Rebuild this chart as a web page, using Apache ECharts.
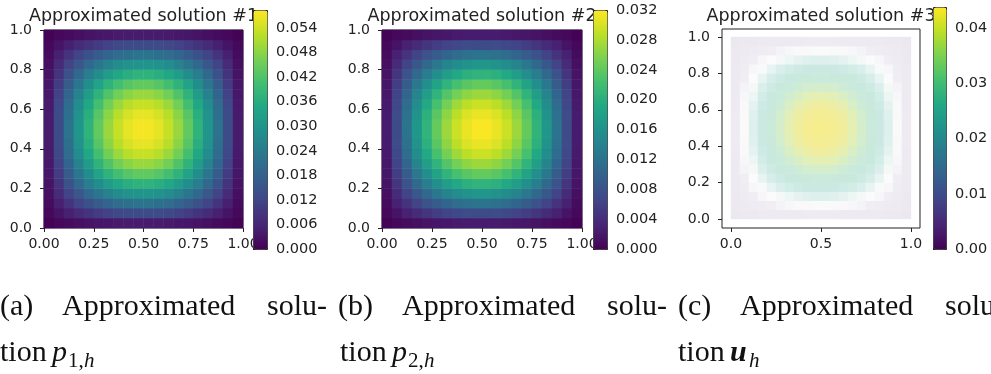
<!DOCTYPE html>
<html>
<head>
<meta charset="utf-8">
<script src="https://cdn.jsdelivr.net/npm/echarts@6.0.0/dist/echarts.min.js"></script>
<style>
html,body{margin:0;padding:0;background:#ffffff;}
#chart{width:991px;height:374px;}
</style>
</head>
<body>
<div id="chart"></div>
<script>
// ---------------- data ----------------
const titles = ['Approximated solution #1', 'Approximated solution #2', 'Approximated solution #3'];

// colour-bar ranges and ticks
const cbMax = [0.0584, 0.032, 0.0438];
const cbTickCount = [9, 8, 4];          // number of tick steps above 0
const cbTickStep = [0.006, 0.004, 0.01];
const cbDecimals = [3, 3, 2];

// axis ticks
const xTickStepAB = 0.25;
const xTickStepC = 0.5;
const yTickStep = 0.2;

// captions
const captionLine1 = [['(a)', 'Approximated', 'solu-'], ['(b)', 'Approximated', 'solu-'], ['(c)', 'Approximated', 'solu-']];
const captionTion = 'tion';
const captionMath = [['p', '1,', 'h'], ['p', '2,', 'h'], ['u', '', 'h']];

// field values on a 20 x 20 grid of cells (row 0 = bottom, column 0 = left)
const field1 = [
[0.0004,0.0011,0.0017,0.0024,0.0030,0.0035,0.0039,0.0042,0.0044,0.0045,0.0045,0.0044,0.0042,0.0039,0.0035,0.0030,0.0024,0.0017,0.0011,0.0004],
[0.0011,0.0032,0.0052,0.0071,0.0088,0.0103,0.0115,0.0125,0.0132,0.0135,0.0135,0.0132,0.0125,0.0115,0.0103,0.0088,0.0071,0.0052,0.0032,0.0011],
[0.0017,0.0052,0.0085,0.0116,0.0144,0.0169,0.0189,0.0205,0.0216,0.0221,0.0221,0.0216,0.0205,0.0189,0.0169,0.0144,0.0116,0.0085,0.0052,0.0017],
[0.0024,0.0071,0.0116,0.0158,0.0197,0.0230,0.0258,0.0280,0.0295,0.0302,0.0302,0.0295,0.0280,0.0258,0.0230,0.0197,0.0158,0.0116,0.0071,0.0024],
[0.0030,0.0088,0.0144,0.0197,0.0245,0.0286,0.0321,0.0348,0.0366,0.0375,0.0375,0.0366,0.0348,0.0321,0.0286,0.0245,0.0197,0.0144,0.0088,0.0030],
[0.0035,0.0103,0.0169,0.0230,0.0286,0.0335,0.0376,0.0407,0.0429,0.0440,0.0440,0.0429,0.0407,0.0376,0.0335,0.0286,0.0230,0.0169,0.0103,0.0035],
[0.0039,0.0115,0.0189,0.0258,0.0321,0.0376,0.0422,0.0457,0.0481,0.0493,0.0493,0.0481,0.0457,0.0422,0.0376,0.0321,0.0258,0.0189,0.0115,0.0039],
[0.0042,0.0125,0.0205,0.0280,0.0348,0.0407,0.0457,0.0495,0.0521,0.0534,0.0534,0.0521,0.0495,0.0457,0.0407,0.0348,0.0280,0.0205,0.0125,0.0042],
[0.0044,0.0132,0.0216,0.0295,0.0366,0.0429,0.0481,0.0521,0.0548,0.0562,0.0562,0.0548,0.0521,0.0481,0.0429,0.0366,0.0295,0.0216,0.0132,0.0044],
[0.0045,0.0135,0.0221,0.0302,0.0375,0.0440,0.0493,0.0534,0.0562,0.0576,0.0576,0.0562,0.0534,0.0493,0.0440,0.0375,0.0302,0.0221,0.0135,0.0045],
[0.0045,0.0135,0.0221,0.0302,0.0375,0.0440,0.0493,0.0534,0.0562,0.0576,0.0576,0.0562,0.0534,0.0493,0.0440,0.0375,0.0302,0.0221,0.0135,0.0045],
[0.0044,0.0132,0.0216,0.0295,0.0366,0.0429,0.0481,0.0521,0.0548,0.0562,0.0562,0.0548,0.0521,0.0481,0.0429,0.0366,0.0295,0.0216,0.0132,0.0044],
[0.0042,0.0125,0.0205,0.0280,0.0348,0.0407,0.0457,0.0495,0.0521,0.0534,0.0534,0.0521,0.0495,0.0457,0.0407,0.0348,0.0280,0.0205,0.0125,0.0042],
[0.0039,0.0115,0.0189,0.0258,0.0321,0.0376,0.0422,0.0457,0.0481,0.0493,0.0493,0.0481,0.0457,0.0422,0.0376,0.0321,0.0258,0.0189,0.0115,0.0039],
[0.0035,0.0103,0.0169,0.0230,0.0286,0.0335,0.0376,0.0407,0.0429,0.0440,0.0440,0.0429,0.0407,0.0376,0.0335,0.0286,0.0230,0.0169,0.0103,0.0035],
[0.0030,0.0088,0.0144,0.0197,0.0245,0.0286,0.0321,0.0348,0.0366,0.0375,0.0375,0.0366,0.0348,0.0321,0.0286,0.0245,0.0197,0.0144,0.0088,0.0030],
[0.0024,0.0071,0.0116,0.0158,0.0197,0.0230,0.0258,0.0280,0.0295,0.0302,0.0302,0.0295,0.0280,0.0258,0.0230,0.0197,0.0158,0.0116,0.0071,0.0024],
[0.0017,0.0052,0.0085,0.0116,0.0144,0.0169,0.0189,0.0205,0.0216,0.0221,0.0221,0.0216,0.0205,0.0189,0.0169,0.0144,0.0116,0.0085,0.0052,0.0017],
[0.0011,0.0032,0.0052,0.0071,0.0088,0.0103,0.0115,0.0125,0.0132,0.0135,0.0135,0.0132,0.0125,0.0115,0.0103,0.0088,0.0071,0.0052,0.0032,0.0011],
[0.0004,0.0011,0.0017,0.0024,0.0030,0.0035,0.0039,0.0042,0.0044,0.0045,0.0045,0.0044,0.0042,0.0039,0.0035,0.0030,0.0024,0.0017,0.0011,0.0004]
];
const field2 = [
[0.0002,0.0006,0.0010,0.0013,0.0016,0.0019,0.0021,0.0023,0.0024,0.0025,0.0025,0.0024,0.0023,0.0021,0.0019,0.0016,0.0013,0.0010,0.0006,0.0002],
[0.0006,0.0017,0.0029,0.0039,0.0049,0.0057,0.0064,0.0069,0.0073,0.0074,0.0074,0.0073,0.0069,0.0064,0.0057,0.0049,0.0039,0.0029,0.0017,0.0006],
[0.0010,0.0029,0.0047,0.0064,0.0080,0.0093,0.0104,0.0113,0.0119,0.0122,0.0122,0.0119,0.0113,0.0104,0.0093,0.0080,0.0064,0.0047,0.0029,0.0010],
[0.0013,0.0039,0.0064,0.0087,0.0109,0.0127,0.0143,0.0154,0.0163,0.0167,0.0167,0.0163,0.0154,0.0143,0.0127,0.0109,0.0087,0.0064,0.0039,0.0013],
[0.0016,0.0049,0.0080,0.0109,0.0135,0.0158,0.0177,0.0192,0.0202,0.0207,0.0207,0.0202,0.0192,0.0177,0.0158,0.0135,0.0109,0.0080,0.0049,0.0016],
[0.0019,0.0057,0.0093,0.0127,0.0158,0.0185,0.0207,0.0225,0.0237,0.0243,0.0243,0.0237,0.0225,0.0207,0.0185,0.0158,0.0127,0.0093,0.0057,0.0019],
[0.0021,0.0064,0.0104,0.0143,0.0177,0.0207,0.0233,0.0252,0.0265,0.0272,0.0272,0.0265,0.0252,0.0233,0.0207,0.0177,0.0143,0.0104,0.0064,0.0021],
[0.0023,0.0069,0.0113,0.0154,0.0192,0.0225,0.0252,0.0273,0.0287,0.0295,0.0295,0.0287,0.0273,0.0252,0.0225,0.0192,0.0154,0.0113,0.0069,0.0023],
[0.0024,0.0073,0.0119,0.0163,0.0202,0.0237,0.0265,0.0287,0.0303,0.0310,0.0310,0.0303,0.0287,0.0265,0.0237,0.0202,0.0163,0.0119,0.0073,0.0024],
[0.0025,0.0074,0.0122,0.0167,0.0207,0.0243,0.0272,0.0295,0.0310,0.0318,0.0318,0.0310,0.0295,0.0272,0.0243,0.0207,0.0167,0.0122,0.0074,0.0025],
[0.0025,0.0074,0.0122,0.0167,0.0207,0.0243,0.0272,0.0295,0.0310,0.0318,0.0318,0.0310,0.0295,0.0272,0.0243,0.0207,0.0167,0.0122,0.0074,0.0025],
[0.0024,0.0073,0.0119,0.0163,0.0202,0.0237,0.0265,0.0287,0.0303,0.0310,0.0310,0.0303,0.0287,0.0265,0.0237,0.0202,0.0163,0.0119,0.0073,0.0024],
[0.0023,0.0069,0.0113,0.0154,0.0192,0.0225,0.0252,0.0273,0.0287,0.0295,0.0295,0.0287,0.0273,0.0252,0.0225,0.0192,0.0154,0.0113,0.0069,0.0023],
[0.0021,0.0064,0.0104,0.0143,0.0177,0.0207,0.0233,0.0252,0.0265,0.0272,0.0272,0.0265,0.0252,0.0233,0.0207,0.0177,0.0143,0.0104,0.0064,0.0021],
[0.0019,0.0057,0.0093,0.0127,0.0158,0.0185,0.0207,0.0225,0.0237,0.0243,0.0243,0.0237,0.0225,0.0207,0.0185,0.0158,0.0127,0.0093,0.0057,0.0019],
[0.0016,0.0049,0.0080,0.0109,0.0135,0.0158,0.0177,0.0192,0.0202,0.0207,0.0207,0.0202,0.0192,0.0177,0.0158,0.0135,0.0109,0.0080,0.0049,0.0016],
[0.0013,0.0039,0.0064,0.0087,0.0109,0.0127,0.0143,0.0154,0.0163,0.0167,0.0167,0.0163,0.0154,0.0143,0.0127,0.0109,0.0087,0.0064,0.0039,0.0013],
[0.0010,0.0029,0.0047,0.0064,0.0080,0.0093,0.0104,0.0113,0.0119,0.0122,0.0122,0.0119,0.0113,0.0104,0.0093,0.0080,0.0064,0.0047,0.0029,0.0010],
[0.0006,0.0017,0.0029,0.0039,0.0049,0.0057,0.0064,0.0069,0.0073,0.0074,0.0074,0.0073,0.0069,0.0064,0.0057,0.0049,0.0039,0.0029,0.0017,0.0006],
[0.0002,0.0006,0.0010,0.0013,0.0016,0.0019,0.0021,0.0023,0.0024,0.0025,0.0025,0.0024,0.0023,0.0021,0.0019,0.0016,0.0013,0.0010,0.0006,0.0002]
];
const field3 = [
[0.0003,0.0008,0.0013,0.0018,0.0022,0.0026,0.0029,0.0031,0.0033,0.0034,0.0034,0.0033,0.0031,0.0029,0.0026,0.0022,0.0018,0.0013,0.0008,0.0003],
[0.0008,0.0023,0.0038,0.0052,0.0065,0.0076,0.0086,0.0093,0.0098,0.0100,0.0100,0.0098,0.0093,0.0086,0.0076,0.0065,0.0052,0.0038,0.0023,0.0008],
[0.0013,0.0038,0.0063,0.0086,0.0107,0.0125,0.0140,0.0152,0.0160,0.0164,0.0164,0.0160,0.0152,0.0140,0.0125,0.0107,0.0086,0.0063,0.0038,0.0013],
[0.0018,0.0052,0.0086,0.0117,0.0146,0.0171,0.0192,0.0208,0.0218,0.0224,0.0224,0.0218,0.0208,0.0192,0.0171,0.0146,0.0117,0.0086,0.0052,0.0018],
[0.0022,0.0065,0.0107,0.0146,0.0181,0.0212,0.0238,0.0258,0.0272,0.0278,0.0278,0.0272,0.0258,0.0238,0.0212,0.0181,0.0146,0.0107,0.0065,0.0022],
[0.0026,0.0076,0.0125,0.0171,0.0212,0.0249,0.0279,0.0302,0.0318,0.0326,0.0326,0.0318,0.0302,0.0279,0.0249,0.0212,0.0171,0.0125,0.0076,0.0026],
[0.0029,0.0086,0.0140,0.0192,0.0238,0.0279,0.0313,0.0339,0.0357,0.0365,0.0365,0.0357,0.0339,0.0313,0.0279,0.0238,0.0192,0.0140,0.0086,0.0029],
[0.0031,0.0093,0.0152,0.0208,0.0258,0.0302,0.0339,0.0367,0.0386,0.0396,0.0396,0.0386,0.0367,0.0339,0.0302,0.0258,0.0208,0.0152,0.0093,0.0031],
[0.0033,0.0098,0.0160,0.0218,0.0272,0.0318,0.0357,0.0386,0.0407,0.0417,0.0417,0.0407,0.0386,0.0357,0.0318,0.0272,0.0218,0.0160,0.0098,0.0033],
[0.0034,0.0100,0.0164,0.0224,0.0278,0.0326,0.0366,0.0396,0.0417,0.0427,0.0427,0.0417,0.0396,0.0366,0.0326,0.0278,0.0224,0.0164,0.0100,0.0034],
[0.0034,0.0100,0.0164,0.0224,0.0278,0.0326,0.0366,0.0396,0.0417,0.0427,0.0427,0.0417,0.0396,0.0366,0.0326,0.0278,0.0224,0.0164,0.0100,0.0034],
[0.0033,0.0098,0.0160,0.0218,0.0272,0.0318,0.0357,0.0386,0.0407,0.0417,0.0417,0.0407,0.0386,0.0357,0.0318,0.0272,0.0218,0.0160,0.0098,0.0033],
[0.0031,0.0093,0.0152,0.0208,0.0258,0.0302,0.0339,0.0367,0.0386,0.0396,0.0396,0.0386,0.0367,0.0339,0.0302,0.0258,0.0208,0.0152,0.0093,0.0031],
[0.0029,0.0086,0.0140,0.0192,0.0238,0.0279,0.0313,0.0339,0.0357,0.0365,0.0365,0.0357,0.0339,0.0313,0.0279,0.0238,0.0192,0.0140,0.0086,0.0029],
[0.0026,0.0076,0.0125,0.0171,0.0212,0.0249,0.0279,0.0302,0.0318,0.0326,0.0326,0.0318,0.0302,0.0279,0.0249,0.0212,0.0171,0.0125,0.0076,0.0026],
[0.0022,0.0065,0.0107,0.0146,0.0181,0.0212,0.0238,0.0258,0.0272,0.0278,0.0278,0.0272,0.0258,0.0238,0.0212,0.0181,0.0146,0.0107,0.0065,0.0022],
[0.0018,0.0052,0.0086,0.0117,0.0146,0.0171,0.0192,0.0208,0.0218,0.0224,0.0224,0.0218,0.0208,0.0192,0.0171,0.0146,0.0117,0.0086,0.0052,0.0018],
[0.0013,0.0038,0.0063,0.0086,0.0107,0.0125,0.0140,0.0152,0.0160,0.0164,0.0164,0.0160,0.0152,0.0140,0.0125,0.0107,0.0086,0.0063,0.0038,0.0013],
[0.0008,0.0023,0.0038,0.0052,0.0065,0.0076,0.0086,0.0093,0.0098,0.0100,0.0100,0.0098,0.0093,0.0086,0.0076,0.0065,0.0052,0.0038,0.0023,0.0008],
[0.0003,0.0008,0.0013,0.0018,0.0022,0.0026,0.0029,0.0031,0.0033,0.0034,0.0034,0.0033,0.0031,0.0029,0.0026,0.0022,0.0018,0.0013,0.0008,0.0003]
];

// ---------------- styles ----------------
const viridis = ['#440154','#482475','#414487','#355f8d','#2a788e','#21918c','#22a884','#44bf70','#7ad151','#bddf26','#fde725'];
const paleField = ['#ece8f0','#edeaf1','#eeebf2','#f0eef4','#f8f8fa','#fbfbfb','#f1f8f7','#e4f2ef','#d8eeea','#d0ebe5',
                   '#cbe9e2','#c9e9df','#c9e9dc','#cbeada','#cfecd4','#d6edca','#dfefbd','#e8efaf','#f0ee9f','#f5ed93','#f8ec8a'];
const INK = '#222222';
const SANS = 'DejaVu Sans';
const SERIF = 'Liberation Serif';

const chart = echarts.init(document.getElementById('chart'), null, {renderer: 'canvas'});

const nCells = field1.length;
const cellCats = Array.from({length: nCells}, (_, i) => String(i));
function toTriples(m) {
  const out = [];
  for (let r = 0; r < m.length; r++) for (let c = 0; c < m[r].length; c++) out.push([c, r, m[r][c]]);
  return out;
}

const labelBase = {color: INK, fontFamily: SANS, fontSize: 14};
const tickBase = {show: true, length: 4, lineStyle: {color: INK, width: 1}};

function hiddenCat(grid, pos) {
  return {type: 'category', gridIndex: grid, data: cellCats, show: false, position: pos};
}
function hiddenVal(grid) {
  return {type: 'value', gridIndex: grid, min: 0, max: 1, show: false};
}
// tick positions counted in steps (integers) so no float rounding drops a tick
function shownSteps(grid, pos, step, dec, margin, offset) {
  const n = Math.round(1 / step);
  return {
    type: 'value', gridIndex: grid, position: pos, min: 0, max: n, interval: 1, offset: offset || 0,
    axisLine: {show: false}, splitLine: {show: false}, axisTick: tickBase,
    axisLabel: Object.assign({margin: margin, formatter: v => (v * step).toFixed(dec)}, labelBase)
  };
}
function cbAxis(grid, k) {
  return {
    type: 'value', gridIndex: grid, position: 'right', min: 0, max: cbTickCount[k], interval: 1,
    axisLine: {show: false}, splitLine: {show: false},
    axisTick: {show: true, length: 5, lineStyle: {color: INK, width: 1}},
    axisLabel: {margin: 9, color: INK, fontFamily: SANS, fontSize: 14.5,
      formatter: v => (v * cbTickStep[k]).toFixed(cbDecimals[k])}
  };
}

const grids = [
  {left: 44, top: 30, width: 199, height: 198, show: true, borderColor: INK, borderWidth: 1, backgroundColor: 'transparent'},
  {left: 253, top: 28, width: 14, height: 221},
  {left: 382, top: 30, width: 200, height: 198, show: true, borderColor: INK, borderWidth: 1, backgroundColor: 'transparent'},
  {left: 593, top: 10, width: 14, height: 239},
  {left: 722, top: 29, width: 198, height: 199, show: true, borderColor: INK, borderWidth: 1, backgroundColor: 'transparent'},
  {left: 731, top: 37, width: 180, height: 182},
  {left: 933, top: 28, width: 13, height: 221}
];
grids.forEach(g => { g.containLabel = false; });

const xAxes = [
  hiddenCat(0, 'top'), shownSteps(0, 'bottom', xTickStepAB, 2, 9),
  hiddenVal(1),
  hiddenCat(2, 'top'), shownSteps(2, 'bottom', xTickStepAB, 2, 9),
  hiddenVal(3),
  hiddenVal(4),
  hiddenCat(5, 'top'), shownSteps(5, 'bottom', xTickStepC, 1, 9, 9),
  hiddenVal(6)
];
const yAxes = [
  hiddenCat(0, 'right'), shownSteps(0, 'left', yTickStep, 1, 12),
  cbAxis(1, 0),
  hiddenCat(2, 'right'), shownSteps(2, 'left', yTickStep, 1, 12),
  cbAxis(3, 1),
  hiddenVal(4),
  hiddenCat(5, 'right'), shownSteps(5, 'left', yTickStep, 1, 12, 9),
  cbAxis(6, 2)
];

const heat = (xi, yi, data) => ({
  type: 'heatmap', xAxisIndex: xi, yAxisIndex: yi, data: data,
  itemStyle: {borderWidth: 0}, emphasis: {disabled: true}, silent: true, progressive: 0
});

const series = [
  heat(0, 0, toTriples(field1)),
  heat(3, 3, toTriples(field2)),
  heat(7, 7, toTriples(field3)),
  heat(7, 7, [])
];

const vmBase = {type: 'continuous', calculable: false, orient: 'vertical', padding: 0,
  borderColor: INK, borderWidth: 1, hoverLink: false, z: 4};
const visualMaps = [
  Object.assign({}, vmBase, {seriesIndex: 0, min: 0, max: cbMax[0], inRange: {color: viridis}, left: 253, top: 10, itemWidth: 14, itemHeight: 239}),
  Object.assign({}, vmBase, {seriesIndex: 1, min: 0, max: cbMax[1], inRange: {color: viridis}, left: 593, top: 10, itemWidth: 14, itemHeight: 239}),
  Object.assign({}, vmBase, {seriesIndex: 2, min: 0, max: cbMax[2], inRange: {color: paleField}, show: false}),
  Object.assign({}, vmBase, {seriesIndex: 3, min: 0, max: cbMax[2], inRange: {color: viridis}, left: 933, top: 7, itemWidth: 13, itemHeight: 242})
];

const titleCenters = [143.5, 482, 821];
const titleOpts = titles.map((t, i) => ({
  text: t, left: titleCenters[i], top: 7, textAlign: 'center', padding: 0, z: 1,
  textStyle: {fontFamily: SANS, fontSize: 17.5, fontWeight: 'normal', color: INK}
}));

// captions
const capFont = '30px "' + SERIF + '"';
const wordX = [[0, 62, 267], [338, 402, 607], [678, 740, 945]];
const tionX = [0, 340, 678];
const mathX = [[52, 68, 84], [392, 408, 424], [730, 0, 749]];
const graphics = [];
function txt(x, y, s, font) {
  return {type: 'text', x: x, y: y, silent: true, z: 10,
    style: {text: s, font: font, fill: '#111111', align: 'left', textAlign: 'left', verticalAlign: 'middle', textVerticalAlign: 'middle'}};
}
captionLine1.forEach((words, k) => {
  words.forEach((w, j) => graphics.push(txt(wordX[k][j], 307, w, capFont)));
  graphics.push(txt(tionX[k], 353, captionTion, capFont));
  const m = captionMath[k];
  if (k < 2) {
    graphics.push(txt(mathX[k][0], 353, m[0], 'italic 30px "' + SERIF + '"'));
    graphics.push(txt(mathX[k][1], 361, m[1], '21px "' + SERIF + '"'));
    graphics.push(txt(mathX[k][2], 361, m[2], 'italic 21px "' + SERIF + '"'));
  } else {
    graphics.push(txt(mathX[k][0], 353, m[0], 'italic bold 30px "' + SERIF + '"'));
    graphics.push(txt(mathX[k][2], 361, m[2], 'italic 21px "' + SERIF + '"'));
  }
});

chart.setOption({
  animation: false,
  backgroundColor: '#ffffff',
  textStyle: {fontFamily: SANS},
  title: titleOpts,
  grid: grids,
  xAxis: xAxes,
  yAxis: yAxes,
  visualMap: visualMaps,
  series: series,
  graphic: {elements: graphics}
});
</script>
</body>
</html>
